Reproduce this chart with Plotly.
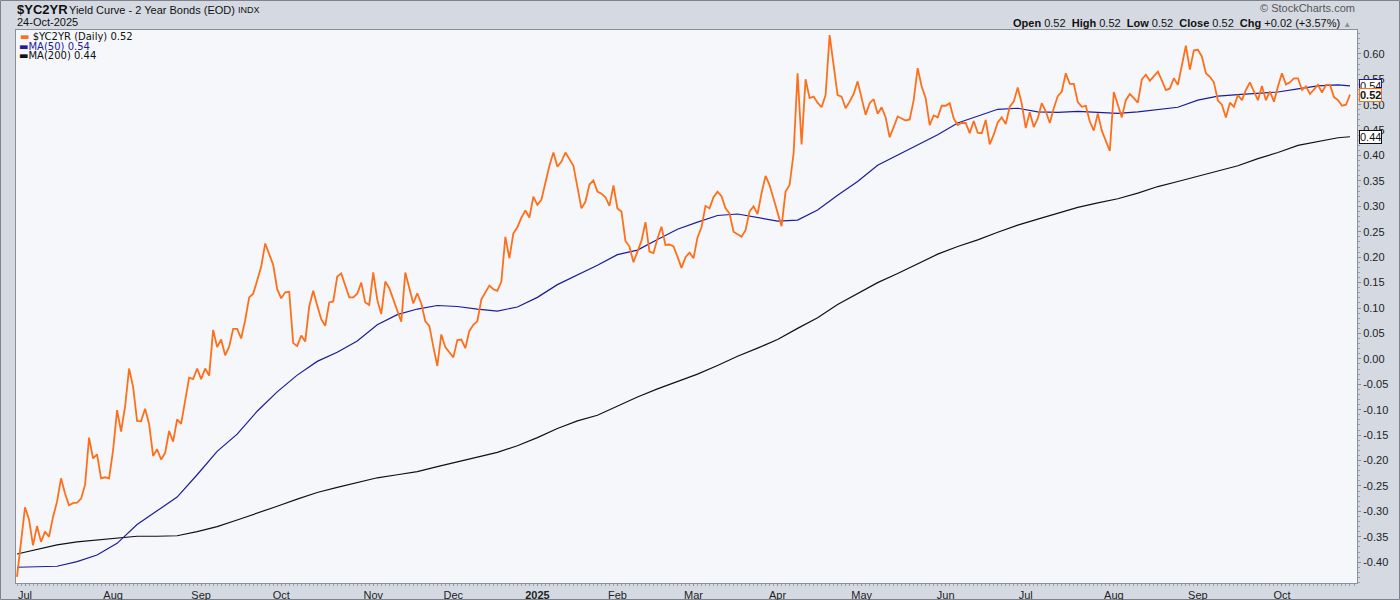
import pandas as pd
import plotly.graph_objects as go

# trading calendar for the chart window
first_session = "2024-06-27"
last_session = "2025-10-24"
market_holidays = ["2024-07-04", "2024-09-02", "2024-11-28", "2024-12-25",
                   "2025-01-01", "2025-01-09", "2025-01-20", "2025-02-17",
                   "2025-04-18", "2025-05-26", "2025-06-19", "2025-07-04",
                   "2025-09-01"]

# daily closes of $YC2YR
yc2yr = [
    -0.429, -0.360, -0.292, -0.316, -0.367, -0.329, -0.360, -0.340, -0.350, -0.311,
    -0.281, -0.235, -0.265, -0.288, -0.284, -0.283, -0.275, -0.248, -0.155, -0.196,
    -0.188, -0.235, -0.233, -0.235, -0.180, -0.101, -0.143, -0.094, -0.019, -0.055,
    -0.122, -0.123, -0.098, -0.128, -0.191, -0.178, -0.198, -0.185, -0.142, -0.163,
    -0.119, -0.128, -0.084, -0.037, -0.040, -0.019, -0.040, -0.019, -0.033, 0.057,
    0.023, 0.038, 0.007, 0.024, 0.059, 0.059, 0.040, 0.076,
    0.121, 0.128, 0.154, 0.181, 0.227, 0.206, 0.185, 0.137, 0.119, 0.131,
    0.132, 0.031, 0.025, 0.046, 0.034, 0.103, 0.134, 0.105, 0.078, 0.065,
    0.111, 0.113, 0.162, 0.168, 0.144, 0.121, 0.121, 0.128, 0.150, 0.111,
    0.106, 0.170, 0.116, 0.088, 0.152, 0.139, 0.117, 0.095, 0.073, 0.170,
    0.141, 0.109, 0.129, 0.109, 0.074, 0.065, 0.024, -0.014, 0.048, 0.023,
    0.013, 0.003, 0.037, 0.038, 0.021, 0.055, 0.067, 0.074,
    0.117, 0.130, 0.144, 0.137, 0.134, 0.152, 0.240, 0.198, 0.247, 0.259,
    0.278, 0.292, 0.278, 0.319, 0.303, 0.313, 0.347, 0.380, 0.406, 0.378,
    0.388, 0.406, 0.393, 0.380, 0.338, 0.296, 0.309, 0.343, 0.351, 0.329,
    0.325, 0.318, 0.301, 0.341, 0.296, 0.290, 0.232, 0.221, 0.190, 0.211,
    0.232, 0.269, 0.211, 0.208, 0.237, 0.260, 0.224, 0.225, 0.221, 0.201,
    0.179, 0.200, 0.209, 0.198, 0.239, 0.259, 0.301, 0.296, 0.318, 0.329,
    0.320, 0.296, 0.286, 0.250, 0.245, 0.240, 0.253, 0.290, 0.300, 0.285,
    0.326, 0.360, 0.342, 0.316, 0.288, 0.261, 0.329, 0.342, 0.404, 0.562,
    0.422, 0.550, 0.513, 0.516, 0.504, 0.495, 0.519, 0.637, 0.578, 0.519,
    0.516, 0.493, 0.506, 0.521, 0.546, 0.513, 0.480, 0.503, 0.511, 0.482,
    0.495, 0.475, 0.436, 0.456, 0.477, 0.473, 0.469, 0.471, 0.509, 0.572,
    0.536, 0.513, 0.460, 0.479, 0.475, 0.498, 0.498,
    0.503, 0.473, 0.460, 0.464, 0.464, 0.444, 0.468, 0.445, 0.444, 0.470,
    0.422, 0.441, 0.465, 0.475, 0.462, 0.496, 0.506, 0.534, 0.502, 0.454,
    0.485, 0.456, 0.473, 0.503, 0.487, 0.464, 0.493, 0.517, 0.526, 0.562,
    0.541, 0.541, 0.505, 0.496, 0.498, 0.467, 0.449, 0.483, 0.449, 0.427,
    0.409, 0.525, 0.500, 0.475, 0.509, 0.521, 0.513, 0.504, 0.550, 0.559,
    0.547, 0.555, 0.565,
    0.548, 0.529, 0.532, 0.552, 0.539, 0.575, 0.616, 0.569, 0.607, 0.608,
    0.595, 0.562, 0.555, 0.544, 0.508, 0.500, 0.475, 0.504, 0.496, 0.519,
    0.509, 0.529, 0.544, 0.526, 0.509, 0.537, 0.509, 0.526, 0.506, 0.536,
    0.562, 0.540, 0.544, 0.552, 0.552, 0.529, 0.536, 0.521, 0.529, 0.539,
    0.524, 0.539, 0.539, 0.515, 0.509, 0.498, 0.500, 0.520,
]

# moving averages, read every 5th session plus the last one
ma50 = [-0.410, -0.409, -0.408, -0.399, -0.386, -0.363, -0.326, -0.299, -0.272, -0.228,
        -0.182, -0.148, -0.103, -0.065, -0.032, -0.005, 0.013, 0.035, 0.067, 0.087,
        0.098, 0.105, 0.103, 0.098, 0.094, 0.102, 0.121, 0.146, 0.165, 0.184,
        0.205, 0.214, 0.235, 0.255, 0.269, 0.282, 0.285, 0.278, 0.271, 0.273,
        0.293, 0.322, 0.349, 0.381, 0.401, 0.421, 0.441, 0.464, 0.478, 0.491,
        0.493, 0.486, 0.485, 0.487, 0.485, 0.483, 0.486, 0.490, 0.495, 0.509,
        0.517, 0.520, 0.523, 0.525, 0.531, 0.537, 0.539, 0.537]
ma200 = [-0.384, -0.375, -0.366, -0.360, -0.356, -0.352, -0.349, -0.349, -0.348, -0.340,
         -0.330, -0.317, -0.304, -0.290, -0.276, -0.263, -0.253, -0.243, -0.234, -0.228,
         -0.222, -0.212, -0.203, -0.194, -0.184, -0.171, -0.155, -0.137, -0.122, -0.111,
         -0.093, -0.075, -0.059, -0.044, -0.030, -0.013, 0.005, 0.021, 0.038, 0.060,
         0.081, 0.107, 0.129, 0.150, 0.168, 0.187, 0.206, 0.221, 0.234, 0.249,
         0.263, 0.275, 0.287, 0.298, 0.307, 0.315, 0.326, 0.339, 0.349, 0.359,
         0.369, 0.380, 0.394, 0.406, 0.420, 0.428, 0.435, 0.437]

month_labels = ["Jul", "Aug", "Sep", "Oct", "Nov", "Dec", "<b>2025</b>", "Feb",
                "Mar", "Apr", "May", "Jun", "Jul", "Aug", "Sep", "Oct"]
y_ticks = [0.60, 0.55, 0.50, 0.45, 0.40, 0.35, 0.30, 0.25, 0.20, 0.15, 0.10,
           0.05, 0.00, -0.05, -0.10, -0.15, -0.20, -0.25, -0.30, -0.35, -0.40]

ORANGE = "#ff6f1a"
NAVY = "#1c1c9c"
BLACK = "#111111"
FRAME = "#8a8f99"

dates = pd.bdate_range(first_session, last_session, freq="C", holidays=market_holidays)
dates = dates[-len(yc2yr):]
ma_dates = list(dates[::5]) + [dates[-1]]

month_starts = dates.to_series().groupby(dates.to_period("M")).first()
month_starts = list(month_starts.values[1:])

fig = go.Figure()
fig.add_trace(go.Scatter(x=ma_dates, y=ma200, mode="lines", line=dict(color=BLACK, width=1.2)))
fig.add_trace(go.Scatter(x=ma_dates, y=ma50, mode="lines", line=dict(color=NAVY, width=1.2)))
fig.add_trace(go.Scatter(x=dates, y=yc2yr, mode="lines", line=dict(color=ORANGE, width=1.8)))

# plot area is 16..1357 px wide and 30..583 px tall
L, R, T, B = 16, 1357, 30, 583


def px(x):
    return (x - L) / (R - L)


def py(y):
    return (B - y) / (B - T)


ann = []
# header
ann.append(dict(x=px(15), y=py(9), text="<b>$YC2YR</b>", font=dict(size=13, family="Liberation Sans", color="#111")))
ann.append(dict(x=px(67), y=py(10), text="Yield Curve - 2 Year Bonds (EOD)", font=dict(size=11, family="Liberation Sans", color="#111")))
ann.append(dict(x=px(236), y=py(10), text="INDX", font=dict(size=9, family="Liberation Sans", color="#111")))
ann.append(dict(x=px(15), y=py(22), text="24-Oct-2025", font=dict(size=11, family="Liberation Sans", color="#111")))
ann.append(dict(x=px(1357), y=py(8), text="© StockCharts.com", xanchor="right",
                font=dict(size=11, family="Liberation Sans", color="#555")))
ann.append(dict(x=px(1353), y=py(23), xanchor="right",
                text=("<b>Open</b> 0.52  <b>High</b> 0.52  <b>Low</b> 0.52  <b>Close</b> 0.52  "
                      "<b>Chg</b> +0.02 (+3.57%) <span style='color:#8a8f99;font-size:8px'>▲</span>"),
                font=dict(size=11, family="Liberation Sans", color="#111")))
# legend
ann.append(dict(x=px(18), y=py(36), text=f"<span style='color:{ORANGE}'>▬</span> $YC2YR (Daily) {yc2yr[-1]:.2f}",
                font=dict(size=10, family="DejaVu Sans", color="#111")))
ann.append(dict(x=px(17), y=py(46), text=f"<span style='color:{NAVY}'>▬</span>MA(50) {ma50[-1]:.2f}",
                font=dict(size=10, family="DejaVu Sans", color=NAVY)))
ann.append(dict(x=px(17), y=py(56), text=f"<span style='color:{BLACK}'>▬</span>MA(200) {ma200[-1]:.2f}",
                font=dict(size=10, family="DejaVu Sans", color="#111")))
for a in ann:
    a.update(xref="paper", yref="paper", showarrow=False, yanchor="middle")
    a.setdefault("xanchor", "left")

# value tags on the right axis
for val, col, bold in [(ma50[-1], NAVY, False), (yc2yr[-1], ORANGE, True), (ma200[-1], BLACK, False)]:
    txt = f"{val:.2f}"
    ann.append(dict(xref="paper", yref="y", x=1.0, y=val, xanchor="left", yanchor="middle", xshift=2,
                    text=f"<b>{txt}</b>" if bold else txt, showarrow=False,
                    bgcolor="white", bordercolor=col, borderwidth=1, borderpad=0,
                    font=dict(size=11, family="Liberation Sans", color="#111")))

fig.update_layout(
    width=1400, height=600,
    margin=dict(l=L, r=1400 - R, t=T, b=600 - B),
    paper_bgcolor="#d5dae2", plot_bgcolor="#f5f7fa",
    showlegend=False,
    font=dict(family="Liberation Sans, Arial", size=11, color="#222"),
    annotations=ann,
    shapes=[dict(type="rect", xref="paper", yref="paper", x0=px(0.5), x1=px(1399.5),
                 y0=py(0.5), y1=py(599.5), line=dict(color="#7d828c", width=1), layer="below")],
)

fig.update_xaxes(
    type="date",
    range=[pd.Timestamp(first_session) - pd.Timedelta(hours=6), pd.Timestamp("2025-10-27 18:00")],
    rangebreaks=[dict(bounds=["sat", "mon"]), dict(values=market_holidays)],
    tickvals=month_starts, ticktext=month_labels,
    ticks="outside", ticklen=2, tickcolor=FRAME,
    minor=dict(ticks="outside", ticklen=2, dtick=86400000, tickcolor="#9aa0aa"),
    showgrid=False, showline=True, mirror=True, linecolor=FRAME, linewidth=1,
    tickfont=dict(size=11, family="Liberation Sans", color="#222"),
    automargin=False, zeroline=False,
)
fig.update_yaxes(
    side="right", range=[-0.441, 0.647],
    tickvals=y_ticks, ticktext=[f"{v:.2f}" for v in y_ticks],
    ticks="outside", ticklen=3, tickcolor=FRAME,
    minor=dict(ticks="outside", ticklen=2, dtick=0.01, tickcolor="#9aa0aa"),
    showgrid=False, showline=True, mirror=True, linecolor=FRAME, linewidth=1,
    tickfont=dict(size=11, family="Liberation Sans", color="#222"),
    automargin=False, zeroline=False,
)

fig.write_html("out.html", config={"displayModeBar": False},
               post_script="document.body.style.margin='0';document.body.style.background='#d5dae2';")
